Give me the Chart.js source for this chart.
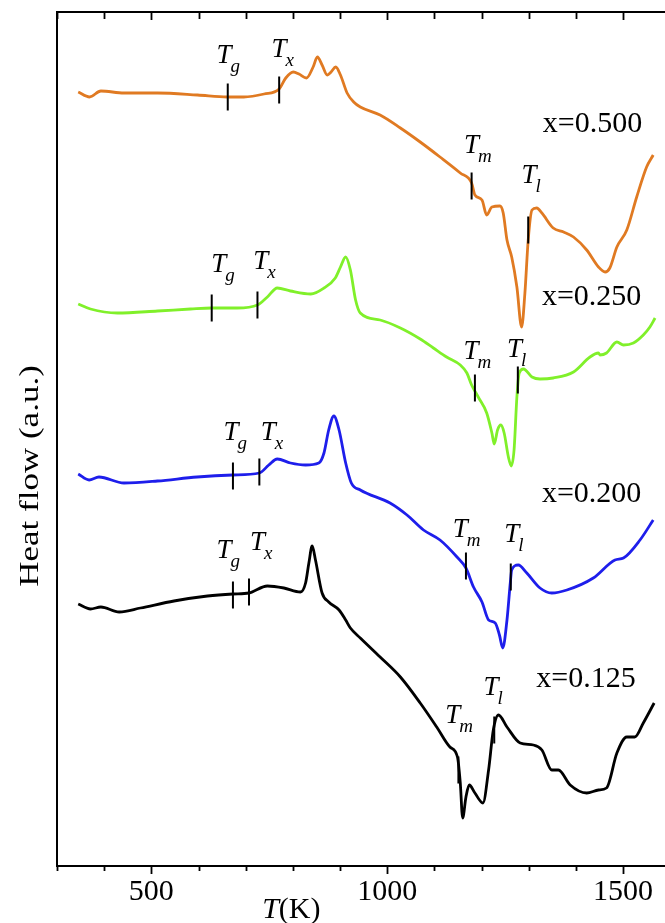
<!DOCTYPE html>
<html>
<head>
<meta charset="utf-8">
<script src="https://cdn.jsdelivr.net/npm/chart.js@4.4.1/dist/chart.umd.min.js"></script>
<style>
  html, body { margin: 0; padding: 0; background: #fff; overflow: hidden; }
  canvas { display: block; }
</style>
</head>
<body>
<canvas id="dsc" width="665" height="923"></canvas>
<script>
// DSC heat-flow traces (arbitrary units, curves offset vertically) vs temperature in K.
const compositions = ['x=0.500', 'x=0.250', 'x=0.200', 'x=0.125'];

const tempX500 = [345, 369, 393, 442, 513, 598, 661, 696, 739, 771, 785, 801, 813, 829, 843, 852, 862, 873, 881, 891, 901, 915, 929, 943, 985, 1028, 1070, 1112, 1155, 1179, 1186, 1201, 1211, 1222, 1239, 1246, 1254, 1264, 1275, 1285, 1292, 1299, 1307, 1317, 1328, 1352, 1374, 1395, 1423, 1448, 1462, 1472, 1487, 1508, 1529, 1550, 1564];
const flowX500 = [774, 769, 775, 773, 773, 771, 769, 769, 772, 777, 788, 794, 792, 788, 799, 809, 801, 791, 794, 799, 791, 773, 764, 759, 751, 738, 724, 709, 693, 683, 671, 666, 651, 659, 660, 653, 626, 609, 579, 539, 573, 626, 656, 658, 653, 638, 634, 629, 616, 599, 594, 598, 619, 636, 669, 699, 711];

const tempX250 = [345, 371, 428, 513, 583, 628, 682, 725, 746, 767, 795, 838, 866, 890, 901, 912, 922, 933, 943, 985, 1028, 1070, 1098, 1126, 1155, 1169, 1179, 1193, 1211, 1222, 1227, 1234, 1241, 1248, 1257, 1263, 1269, 1275, 1280, 1289, 1307, 1324, 1352, 1395, 1430, 1448, 1451, 1465, 1487, 1501, 1522, 1543, 1557, 1568];
const flowX250 = [562, 557, 553, 555, 557, 558, 558, 561, 569, 578, 575, 572, 578, 588, 599, 609, 596, 566, 553, 546, 538, 527, 518, 509, 501, 493, 481, 469, 453, 433, 422, 436, 441, 433, 409, 400, 416, 469, 493, 497, 489, 487, 488, 494, 509, 513, 511, 513, 524, 521, 523, 531, 539, 548];

const tempX200 = [345, 368, 389, 442, 513, 597, 673, 729, 749, 767, 795, 827, 855, 866, 876, 887, 898, 912, 924, 943, 1006, 1042, 1077, 1112, 1148, 1167, 1183, 1201, 1215, 1229, 1238, 1245, 1254, 1261, 1264, 1278, 1296, 1324, 1349, 1381, 1437, 1483, 1501, 1536, 1564];
const flowX200 = [392, 386, 389, 383, 385, 389, 391, 393, 401, 407, 403, 401, 403, 413, 436, 450, 436, 403, 383, 376, 363, 351, 336, 326, 309, 298, 279, 264, 246, 243, 231, 218, 246, 283, 296, 301, 293, 278, 273, 276, 288, 306, 308, 326, 346];

const tempX125 = [345, 371, 393, 432, 477, 548, 619, 673, 707, 746, 781, 816, 827, 834, 841, 848, 862, 876, 898, 912, 922, 943, 985, 1028, 1070, 1105, 1133, 1149, 1155, 1160, 1167, 1174, 1186, 1203, 1215, 1225, 1236, 1254, 1282, 1310, 1328, 1349, 1363, 1388, 1423, 1448, 1465, 1487, 1508, 1525, 1543, 1566];
const flowX125 = [262, 257, 259, 254, 258, 265, 270, 272, 273, 280, 278, 274, 283, 303, 320, 306, 273, 264, 256, 246, 238, 228, 209, 189, 163, 139, 119, 109, 83, 48, 69, 81, 73, 63, 96, 136, 151, 139, 123, 121, 116, 96, 96, 81, 73, 76, 78, 113, 129, 129, 143, 163];

// Characteristic temperatures (Tg, Tx, Tm, Tl) and the heat-flow level each marker is centred on.
const eventKeys = ['g', 'x', 'm', 'l'];
const eventTempX500 = [662, 771, 1179, 1299];
const eventFlowX500 = [769, 776, 680, 636];
const eventTempX250 = [628, 725, 1186, 1277];
const eventFlowX250 = [558, 561, 478, 486];
const eventTempX200 = [673, 729, 1167, 1262];
const eventFlowX200 = [390, 394, 300, 289];
const eventTempX125 = [673, 707, 1151, 1227];
const eventFlowX125 = [271, 274, 96, 136];

const xTickValues = [500, 1000, 1500];

// ---- presentation ----
const SERIF = '"Liberation Serif", "Times New Roman", serif';
const lineColors = ['#E07A22', '#80F02A', '#1E1EEB', '#000000'];

const series = [
  { t: tempX500, v: flowX500, et: eventTempX500, ef: eventFlowX500 },
  { t: tempX250, v: flowX250, et: eventTempX250, ef: eventFlowX250 },
  { t: tempX200, v: flowX200, et: eventTempX200, ef: eventFlowX200 },
  { t: tempX125, v: flowX125, et: eventTempX125, ef: eventFlowX125 }
];

// Anchors (left edge of "T", baseline) of the event labels, in axis units.
const eventLabelAnchors = [
  [[638, 803], [755, 809], [1163, 713], [1285, 683]],
  [[627, 594], [716, 597], [1162, 507], [1254, 509]],
  [[653, 426], [732, 426], [1139, 329], [1248, 324]],
  [[638, 308], [709, 316], [1123, 143], [1204, 171]]
];
// Anchors (left edge, baseline) of the composition labels.
const compositionAnchors = [[1330, 734], [1328, 561], [1328, 364], [1316, 179]];

const datasets = series.map((s, i) => ({
  label: compositions[i],
  data: s.t.map((t, k) => ({ x: t, y: s.v[k] })),
  borderColor: lineColors[i],
  borderWidth: 2.8,
  pointRadius: 0,
  fill: false,
  cubicInterpolationMode: 'monotone'
}));

const decorations = {
  id: 'decorations',
  afterDatasetsDraw(chart) {
    const { ctx } = chart;
    const xs = chart.scales.x, ys = chart.scales.y;
    const area = chart.chartArea;
    ctx.save();

    // event markers
    ctx.strokeStyle = '#000';
    ctx.lineWidth = 2;
    const half = 13.5;
    series.forEach(s => {
      s.et.forEach((t, k) => {
        const px = xs.getPixelForValue(t);
        ctx.beginPath();
        ctx.moveTo(px, ys.getPixelForValue(s.ef[k] + half));
        ctx.lineTo(px, ys.getPixelForValue(s.ef[k] - half));
        ctx.stroke();
      });
    });

    // event labels: italic T with subscript
    ctx.fillStyle = '#000';
    ctx.textAlign = 'left';
    ctx.textBaseline = 'alphabetic';
    eventLabelAnchors.forEach(row => {
      row.forEach((a, k) => {
        const px = xs.getPixelForValue(a[0]);
        const py = ys.getPixelForValue(a[1]);
        ctx.font = 'italic 27px ' + SERIF;
        ctx.fillText('T', px, py);
        ctx.font = 'italic 19px ' + SERIF;
        ctx.fillText(eventKeys[k], px + 14, py + 9);
      });
    });

    // composition labels
    ctx.font = '30px ' + SERIF;
    compositionAnchors.forEach((a, i) => {
      ctx.fillText(compositions[i], xs.getPixelForValue(a[0]), ys.getPixelForValue(a[1]));
    });

    // axis tick marks: outward on the bottom axis, inward on the top frame
    ctx.lineWidth = 1.8;
    xs.ticks.forEach(tk => {
      const v = tk.value;
      if (v % 100 !== 0) return;
      const px = Math.round(xs.getPixelForValue(v)) + 0.5;
      const major = v % 500 === 0;
      ctx.beginPath();
      ctx.moveTo(px, area.bottom);
      ctx.lineTo(px, area.bottom + (major ? 8 : 5));
      ctx.moveTo(px, area.top);
      ctx.lineTo(px, area.top + (major ? 8 : 7));
      ctx.stroke();
    });

    // x-axis title: T(K)
    const tx = xs.getPixelForValue(735);
    const ty = 918;
    ctx.font = 'italic 30px ' + SERIF;
    ctx.fillText('T', tx, ty);
    const tw = ctx.measureText('T').width;
    ctx.font = '30px ' + SERIF;
    ctx.fillText('(K)', tx + tw, ty);

    // y-axis title
    ctx.translate(38, (area.top + area.bottom) / 2 + 37);
    ctx.rotate(-Math.PI / 2);
    ctx.scale(1.25, 1);
    ctx.textAlign = 'center';
    ctx.font = '28px ' + SERIF;
    ctx.fillText('Heat flow (a.u.)', 0, 0);

    ctx.restore();
  }
};

new Chart(document.getElementById('dsc').getContext('2d'), {
  type: 'line',
  data: { datasets },
  options: {
    responsive: false,
    animation: false,
    devicePixelRatio: 1,
    layout: { padding: 0 },
    plugins: { legend: { display: false }, tooltip: { enabled: false } },
    scales: {
      x: {
        type: 'linear',
        position: 'bottom',
        min: 300,
        max: 1589,
        grid: { display: false, drawTicks: false },
        border: { display: true, color: '#000', width: 2 },
        ticks: {
          stepSize: 100,
          includeBounds: false,
          autoSkip: false,
          maxRotation: 0,
          padding: 8,
          color: '#000',
          font: { family: SERIF, size: 30 },
          callback: v => (xTickValues.includes(v) ? String(v) : '')
        },
        afterFit: s => { s.height = 57; s.paddingRight = 0; s.paddingLeft = 0; }
      },
      xTop: {
        type: 'linear',
        position: 'top',
        min: 300,
        max: 1589,
        grid: { display: false, drawTicks: false },
        border: { display: true, color: '#000', width: 2 },
        ticks: { display: false, includeBounds: false },
        afterFit: s => { s.height = 12; s.paddingRight = 0; s.paddingLeft = 0; }
      },
      y: {
        type: 'linear',
        min: 0,
        max: 854,
        grid: { display: false, drawTicks: false },
        border: { display: true, color: '#000', width: 2 },
        ticks: { display: false },
        afterFit: s => { s.width = 57; }
      }
    }
  },
  plugins: [decorations]
});
</script>
</body>
</html>
